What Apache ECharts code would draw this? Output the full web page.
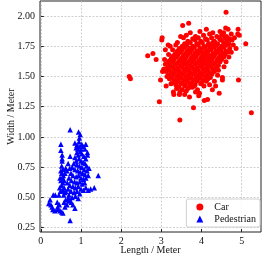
<!DOCTYPE html>
<html><head><meta charset="utf-8">
<script src="https://cdn.jsdelivr.net/npm/echarts@6/dist/echarts.min.js"></script>
<style>html,body{margin:0;padding:0;background:#fff}#c{width:270px;height:257px}</style>
</head><body><div id="c"></div>
<script>
const seriesNames = ['Car', 'Pedestrian'];
const xTicks = [0, 1, 2, 3, 4, 5];
const yTicks = [0.25, 0.50, 0.75, 1.00, 1.25, 1.50, 1.75, 2.00];
const xName = 'Length / Meter';
const yName = 'Width / Meter';

const carPoints = [
[4.61,2.03],[3.68,1.94],[3.53,1.92],[3.02,1.82],[3.01,1.80],[4.91,1.89],[4.94,1.84],[4.90,1.85],[5.10,1.77],
[3.17,1.76],[3.22,1.75],[3.10,1.72],[2.66,1.67],[2.79,1.69],[2.87,1.64],[4.86,1.73],[3.03,1.54],[2.98,1.47],
[4.92,1.47],[2.95,1.29],[3.80,1.24],[3.46,1.14],[5.24,1.20],[4.07,1.30],[4.15,1.31],[4.44,1.36],[4.27,1.39],
[3.95,1.36],[3.93,1.34],[3.31,1.35],[3.30,1.37],[3.45,1.35],[3.77,1.41],[4.52,1.47],[4.52,1.49],[2.20,1.50],[2.23,1.48],
[4.12,1.89],[4.46,1.87],[4.66,1.89],[3.48,1.83],[4.60,1.90],[3.96,1.87],
[3.72,1.86],[4.28,1.86],[4.55,1.86],[4.74,1.85],
[3.62,1.84],[3.85,1.83],[4.05,1.84],[4.20,1.85],[4.38,1.83],[4.50,1.84],[4.62,1.83],[4.82,1.82],
[3.55,1.82],[3.78,1.81],[3.92,1.82],[4.10,1.81],[4.25,1.82],[4.45,1.81],[4.58,1.82],[4.70,1.81],
[3.66,1.79],[3.84,1.80],[3.98,1.79],[4.14,1.80],[4.32,1.79],[4.48,1.80],[4.64,1.79],[4.76,1.80],
[3.40,1.78],[3.58,1.77],[3.72,1.78],[3.88,1.77],[4.02,1.78],[4.18,1.77],[4.28,1.78],[4.40,1.77],[4.55,1.78],[4.68,1.77],
[3.36,1.76],[3.52,1.75],[3.64,1.76],[3.78,1.75],[3.92,1.76],[4.06,1.75],[4.16,1.76],[4.26,1.75],[4.36,1.76],[4.50,1.75],[4.62,1.76],[4.79,1.76],
[3.45,1.73],[3.58,1.74],[3.70,1.73],[3.82,1.74],[3.96,1.73],[4.08,1.74],[4.20,1.73],[4.32,1.74],[4.44,1.73],[4.56,1.74],[4.70,1.73],
[3.28,1.72],[3.40,1.71],[3.52,1.72],[3.64,1.71],[3.76,1.72],[3.88,1.71],[4.00,1.72],[4.12,1.71],[4.24,1.72],[4.36,1.71],[4.48,1.72],[4.60,1.71],[4.74,1.70],
[3.35,1.69],[3.48,1.70],[3.60,1.69],[3.72,1.70],[3.84,1.69],[3.95,1.70],[4.05,1.69],[4.15,1.70],[4.28,1.69],[4.40,1.70],[4.52,1.69],[4.64,1.70],
[3.18,1.68],[3.30,1.67],[3.42,1.68],[3.55,1.67],[3.66,1.68],[3.78,1.67],[3.90,1.68],[4.02,1.67],[4.12,1.68],[4.22,1.67],[4.34,1.68],[4.46,1.67],[4.58,1.68],[4.68,1.66],
[3.25,1.65],[3.38,1.66],[3.50,1.65],[3.62,1.66],[3.74,1.65],[3.86,1.66],[3.98,1.65],[4.08,1.66],[4.18,1.65],[4.30,1.66],[4.42,1.65],[4.55,1.66],
[3.08,1.64],[3.20,1.63],[3.32,1.64],[3.45,1.63],[3.58,1.64],[3.70,1.63],[3.82,1.64],[3.94,1.63],[4.04,1.64],[4.14,1.63],[4.26,1.64],[4.38,1.63],[4.50,1.64],[4.61,1.62],
[3.16,1.61],[3.28,1.62],[3.40,1.61],[3.52,1.62],[3.64,1.61],[3.76,1.62],[3.88,1.61],[4.00,1.62],[4.10,1.61],[4.22,1.62],[4.34,1.61],[4.46,1.62],
[3.10,1.60],[3.22,1.59],[3.35,1.60],[3.48,1.59],[3.60,1.60],[3.72,1.59],[3.84,1.60],[3.96,1.59],[4.06,1.60],[4.18,1.59],[4.30,1.60],[4.42,1.59],[4.56,1.58],
[3.15,1.57],[3.28,1.58],[3.40,1.57],[3.52,1.58],[3.64,1.57],[3.76,1.58],[3.88,1.57],[4.00,1.58],[4.12,1.57],[4.24,1.58],[4.36,1.57],
[3.06,1.56],[3.20,1.55],[3.32,1.56],[3.44,1.55],[3.56,1.56],[3.68,1.55],[3.80,1.56],[3.92,1.55],[4.04,1.56],[4.16,1.55],[4.28,1.56],[4.42,1.55],
[3.12,1.54],[3.24,1.53],[3.36,1.54],[3.48,1.53],[3.60,1.54],[3.72,1.53],[3.84,1.54],[3.96,1.53],[4.08,1.54],[4.20,1.53],[4.32,1.54],
[3.18,1.51],[3.30,1.52],[3.42,1.51],[3.54,1.52],[3.66,1.51],[3.78,1.52],[3.90,1.51],[4.02,1.52],[4.14,1.51],[4.26,1.52],[4.40,1.51],
[3.14,1.50],[3.26,1.49],[3.38,1.50],[3.50,1.49],[3.62,1.50],[3.74,1.49],[3.86,1.50],[3.98,1.49],[4.10,1.50],[4.22,1.49],
[3.20,1.48],[3.32,1.47],[3.44,1.48],[3.56,1.47],[3.68,1.48],[3.80,1.47],[3.92,1.48],[4.04,1.47],[4.16,1.48],[4.32,1.46],
[3.28,1.45],[3.40,1.46],[3.52,1.45],[3.64,1.46],[3.76,1.45],[3.88,1.46],[4.00,1.45],[4.12,1.46],
[3.24,1.44],[3.36,1.43],[3.48,1.44],[3.60,1.43],[3.72,1.44],[3.84,1.43],[3.98,1.44],[4.20,1.43],
[3.44,1.41],[3.58,1.42],[3.70,1.41],[3.82,1.42],[4.06,1.42],
[3.38,1.40],[3.52,1.39],[3.66,1.40],[3.90,1.39],
[3.46,1.37],[3.62,1.38],[3.85,1.37],
[3.58,1.35],[3.12,1.42],[4.35,1.42],[3.70,1.33]
];

const pedestrianPoints = [
[0.73,1.06],[0.94,1.04],[0.98,1.02],[0.96,0.99],
[0.50,0.94],[0.50,0.89],[0.53,0.85],[0.53,0.82],[0.53,0.80],[0.52,0.76],[0.55,0.73],[0.50,0.72],[0.52,0.70],
[0.56,0.68],[0.54,0.66],[0.50,0.64],[0.55,0.62],[0.52,0.60],[0.58,0.58],[0.55,0.56],[0.60,0.54],[0.57,0.52],
[0.62,0.55],[0.48,0.66],[0.58,0.64],[0.60,0.70],[0.62,0.74],[0.47,0.58],[0.49,0.55],[0.45,0.52],
[1.12,0.94],[1.16,0.87],[1.16,0.85],[0.73,0.84],[1.10,0.90],[1.05,0.92],[0.90,0.93],[0.92,0.90],[0.88,0.91],
[0.95,0.92],[1.00,0.90],[0.98,0.88],[0.90,0.87],[0.93,0.85],[1.02,0.86],[1.07,0.84],[1.12,0.82],[0.85,0.83],
[0.88,0.80],[0.95,0.82],[1.00,0.80],[1.05,0.79],[1.10,0.78],[1.14,0.76],[0.82,0.78],[0.90,0.77],[0.96,0.76],
[1.02,0.75],[1.08,0.73],[1.15,0.72],[1.20,0.74],[0.78,0.75],[0.85,0.73],[0.92,0.72],[0.98,0.71],[1.04,0.70],
[1.10,0.69],[0.75,0.70],[0.80,0.68],[0.88,0.67],[0.94,0.68],[1.00,0.66],[1.06,0.65],[1.12,0.66],[1.18,0.68],
[0.70,0.66],[0.76,0.64],[0.84,0.63],[0.90,0.62],[0.97,0.63],[1.03,0.61],[1.09,0.62],[0.66,0.62],[0.72,0.60],
[0.80,0.59],[0.86,0.58],[0.93,0.59],[1.00,0.57],[0.68,0.57],[0.75,0.55],[0.83,0.54],[0.90,0.55],[0.97,0.53],
[0.70,0.52],[0.78,0.50],[0.86,0.51],[0.93,0.49],[1.43,0.68],[1.33,0.58],[1.24,0.57],[1.18,0.56],[1.06,0.56],
[1.12,0.58],[0.65,0.72],[0.68,0.78],[0.72,0.74],[0.95,0.96],[0.85,0.95],[1.02,0.94],
[0.36,0.52],[0.31,0.52],[0.23,0.48],[0.20,0.45],[0.25,0.44],[0.28,0.42],[0.41,0.46],[0.46,0.44],[0.42,0.42],
[0.30,0.40],[0.35,0.39],[0.42,0.40],[0.48,0.39],[0.52,0.38],[0.55,0.37],[0.85,0.41],[0.70,0.47],[0.68,0.49],
[0.72,0.48],[0.73,0.31],[0.60,0.42],[0.65,0.44],[0.58,0.46],[0.62,0.48],[0.80,0.44],[0.76,0.46]
];

const FONT = '"Liberation Serif", "Times New Roman", serif';
const chart = echarts.init(document.getElementById('c'), null, {renderer: 'canvas'});
const gridLine = {show: true, lineStyle: {color: '#c4c4c4', type: [2, 1.5], width: 0.8}};
chart.setOption({
  animation: false,
  backgroundColor: '#fff',
  grid: {left: 40, right: 9, top: 1, bottom: 25, containLabel: false, outerBoundsMode: 'none',
         show: true, borderColor: '#222', borderWidth: 1, backgroundColor: 'transparent'},
  legend: {
    data: seriesNames, orient: 'vertical', right: 10, bottom: 30,
    backgroundColor: 'rgba(255,255,255,0.85)', borderColor: '#d0d0d0', borderWidth: 1, borderRadius: 2,
    padding: [3, 4, 3, 10], itemGap: 2, itemWidth: 7, itemHeight: 7,
    textStyle: {fontFamily: FONT, fontSize: 10, color: '#111', padding: [0, 0, 0, 6]}
  },
  xAxis: {
    type: 'value', min: -0.02, max: 5.48,
    name: xName, nameLocation: 'middle', nameGap: 13, nameMoveOverlap: false,
    nameTextStyle: {fontFamily: FONT, fontSize: 10, color: '#111', verticalAlign: 'top'},
    axisLine: {show: false},
    axisTick: {show: true, inside: true, length: 3, customValues: xTicks, lineStyle: {color: '#222'}},
    axisLabel: {customValues: xTicks, fontFamily: FONT, fontSize: 10, color: '#111', margin: 4, formatter: v => String(v)},
    splitLine: Object.assign({customValues: xTicks}, gridLine)
  },
  yAxis: {
    type: 'value', min: 0.214, max: 2.123,
    name: yName, nameLocation: 'middle', nameGap: 24, nameMoveOverlap: false,
    nameTextStyle: {fontFamily: FONT, fontSize: 10, color: '#111'},
    axisLine: {show: false},
    axisTick: {show: true, inside: true, length: 3, customValues: yTicks, lineStyle: {color: '#222'}},
    axisLabel: {customValues: yTicks, fontFamily: FONT, fontSize: 10, color: '#111', margin: 5, formatter: v => v.toFixed(2)},
    splitLine: Object.assign({customValues: yTicks}, gridLine)
  },
  series: [
    {name: seriesNames[0], type: 'scatter', data: carPoints, symbol: 'circle', symbolSize: 5, itemStyle: {color: '#ff0000', opacity: 1}},
    {name: seriesNames[1], type: 'scatter', data: pedestrianPoints, symbol: 'triangle', symbolSize: 5.5, itemStyle: {color: '#0000ff', opacity: 1}}
  ]
});
</script></body></html>
